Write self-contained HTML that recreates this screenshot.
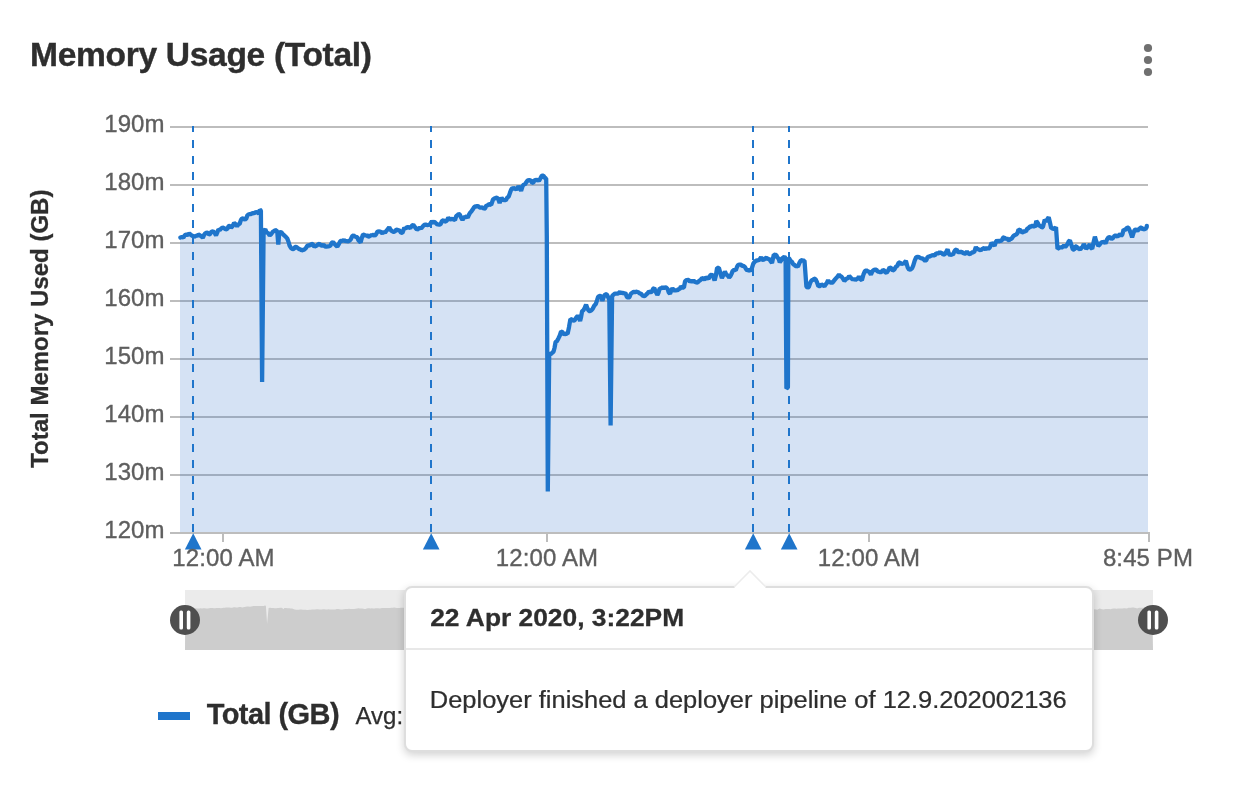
<!DOCTYPE html>
<html lang="en">
<head>
<meta charset="utf-8">
<title>Memory Usage (Total)</title>
<style>
html,body{margin:0;padding:0;background:#fff;}
body{width:1244px;height:812px;position:relative;overflow:hidden;font-family:"Liberation Sans",sans-serif;}
.tip{position:absolute;left:404px;top:586px;width:690px;height:166px;box-sizing:border-box;background:#fff;border:2px solid #dedede;border-radius:8px;box-shadow:0 3px 9px rgba(0,0,0,0.18);}
.tip .hd{position:absolute;left:0;right:0;top:0;height:60px;border-bottom:2px solid #e8e8e8;}
.arrow{position:absolute;left:734px;top:570px;width:32px;height:18px;}
</style>
</head>
<body>
<svg width="1244" height="812" viewBox="0 0 1244 812" style="position:absolute;left:0;top:0;font-family:'Liberation Sans',sans-serif">
<rect x="170" y="126.00" width="978" height="2" fill="#bdbdbd"/>
<rect x="170" y="184.00" width="978" height="2" fill="#bdbdbd"/>
<rect x="170" y="242.00" width="978" height="2" fill="#bdbdbd"/>
<rect x="170" y="300.00" width="978" height="2" fill="#bdbdbd"/>
<rect x="170" y="358.00" width="978" height="2" fill="#bdbdbd"/>
<rect x="170" y="416.00" width="978" height="2" fill="#bdbdbd"/>
<rect x="170" y="474.00" width="978" height="2" fill="#bdbdbd"/>
<path d="M180 237.5 L180.4 237.5 L181.9 237 L183.4 237.5 L184.9 235.1 L186.5 234.6 L187.9 235 L189.3 233.5 L190.7 234.6 L191.9 235.6 L193.1 236 L194.3 237.2 L195.7 235.5 L197 236.2 L198.3 234.4 L199.7 235.1 L201.2 236.3 L202.8 237.8 L204.1 234.9 L205.3 233.3 L206.6 232.6 L207.7 232.9 L208.9 234.5 L210 234.2 L211.5 231.7 L213 231.2 L214.5 232.6 L216 235.4 L217.2 232.7 L218.4 229.4 L219.8 230 L221.3 228.4 L222.7 227.6 L224.2 228.2 L225.7 229.4 L227.2 229 L228.7 226.1 L229.9 225.7 L231.1 227.6 L232.6 226.2 L234.1 223 L235.6 224.2 L237.1 226.4 L238.3 224.3 L239.6 224 L240.8 220.3 L242 218.5 L243.5 218.6 L245 219.7 L246.2 218.7 L247.4 215.3 L248.6 214.3 L249.8 214.2 L251 214.1 L252.2 213.1 L253.4 213.3 L254.6 212.9 L256 212 L257.5 212.3 L258.9 213.7 L259.8 209.7 L260.9 210.7 L260.9 212 L262.1 382 L263.6 231 L265.3 229.4 L266.5 232.4 L268.1 233.1 L269.7 235.4 L271.2 234.1 L272.7 231.8 L273.9 231.1 L275.2 230.3 L276.4 230.2 L277.3 232.4 L278.3 244.7 L279.3 232.4 L281.2 232.2 L282.7 234 L284.2 235.4 L285.7 236.8 L287.2 238.4 L288.4 241.5 L289.6 245.7 L291.1 248.2 L292.7 249.1 L293.9 248.9 L295.1 247 L296.3 246.9 L297.8 248.2 L299.3 249.1 L300.5 249.4 L301.7 250.6 L302.9 249.9 L304.4 249.6 L305.9 248.1 L307.1 246 L308.3 245.1 L309.9 245.7 L311.4 243.9 L312.9 244.4 L314.4 246.9 L315.6 245.8 L316.8 245.8 L318 244.2 L318 244.2 L319.4 243.8 L320.8 245.2 L322.2 245.8 L323.5 244.7 L324.9 246.4 L326.2 246.8 L327.6 246.4 L328.9 246.3 L330.3 245.8 L331.7 242.9 L333.1 242 L334.5 244 L335.9 245.3 L337.3 246.6 L338.8 244.1 L340.3 241.2 L341.5 240.6 L342.8 241.1 L344 239.7 L345.2 241.4 L346.4 240.8 L347.6 241.4 L349.1 241 L350.6 239.7 L352.1 236.4 L353.6 235.4 L354.8 236.5 L356 236.8 L357.2 237 L358.3 240.1 L359.5 241.4 L360.6 242.4 L361.8 237.9 L363 234.6 L364.3 234.8 L365.6 236 L366.8 234.9 L368.1 236.6 L369.4 236.3 L370.7 235.4 L372.1 235.1 L373.4 234.8 L374.7 235.8 L375.9 234.6 L377.1 232.1 L378.4 231.2 L379.7 231.6 L381.1 232.1 L382.4 233.5 L383.7 231.5 L385 232.7 L386.4 230.8 L387.8 229.2 L389.2 227.3 L390.6 229.8 L392 231.1 L393.4 231.8 L394.6 232 L395.9 229.8 L397.1 229.7 L398.5 230.2 L399.8 230.8 L401.1 232.9 L402.5 232.7 L404.3 227.7 L405.5 229 L406.7 227 L407.9 227.2 L409.1 227.4 L410.3 228.2 L411.8 225.9 L413.3 224.9 L414.5 226.5 L415.8 228.3 L417 229.7 L418.4 228.7 L419.8 227.6 L421.2 228.5 L422.7 226.5 L424.2 224.9 L425.6 224.6 L427 225.1 L428.4 224.9 L429.9 224.6 L431.4 221.9 L432.9 222.4 L434.5 221.9 L435.7 223 L436.9 224.1 L438.1 224.5 L439.3 224.7 L440.5 224.3 L442 221 L443.5 220.1 L444.7 221.7 L445.9 221.3 L447.1 220.2 L448.3 217.7 L449.7 219.1 L451.1 219.4 L452.4 218.8 L453.8 219.5 L455 220 L456.2 216.1 L457.4 215.3 L458.6 214.1 L459.8 214.6 L461.1 217.6 L462.5 220 L463.9 217.4 L465.3 217 L466.5 216.3 L467.7 217.8 L468.9 214.9 L470.1 212.7 L471.3 211.5 L472.5 209.8 L473.7 207.8 L474.9 206.5 L476.1 206.5 L477.3 206 L478.5 206.3 L479.7 207.7 L481.1 207.7 L482.6 207.3 L484 208.9 L485.2 208.1 L486.4 205.3 L487.6 205.5 L488.8 204.2 L490 204.4 L491.2 204.9 L493 199.5 L494.4 198.5 L495.8 197.9 L497.2 197.7 L498.4 199.4 L499.6 203.1 L501.5 197.7 L503 199.8 L504.5 200.1 L505.9 200.2 L507.3 197.6 L508.7 196.5 L509.9 193.1 L511.1 189.8 L512.3 188.1 L513.5 188.6 L515 188.2 L516.5 189.8 L518.4 186.2 L519.8 188.1 L521.1 190.8 L522.6 186.2 L523.8 184.3 L525 184.5 L526.2 182.3 L527.7 180.4 L529.2 180.2 L530.7 180.3 L532.2 182.8 L533.4 182.5 L534.6 179.9 L536 180.3 L537.5 179.6 L538.9 180.8 L540.4 178.3 L541.9 175.6 L543.4 175.6 L544.9 178 L546.2 178.4 L546.8 236 L547.8 491.5 L549.2 354 L550.8 354 L552.1 352.9 L553.5 351.6 L554.5 348 L555.6 342 L557 341.1 L558.4 338.4 L559.8 335.5 L561.1 331.5 L562.2 331.9 L563.3 333.3 L564.4 334.7 L566 333.4 L567.6 333.9 L569 327.2 L570.4 319 L571.8 319.5 L573.2 320.6 L574.6 320.3 L576.2 317.6 L577.7 315.8 L578.9 317.6 L580.1 320.9 L581.1 316.9 L582.1 311.2 L583.4 310.3 L584.8 307.7 L586.1 304.6 L587.5 308.6 L588.9 311 L590.2 311.1 L591.4 310.2 L592.7 308.8 L594.2 305.7 L595.8 304 L597 300.4 L598.2 296.7 L599.7 296 L601.2 296.1 L602.4 300.9 L603.9 296.3 L605.4 294.1 L606.8 294.5 L608.2 297.3 L609.3 300 L610.6 425.5 L612.1 296 L613.3 294.9 L614.5 293.9 L615.7 293.5 L616.9 293.7 L618.4 293.3 L619.9 291.9 L621.2 293.3 L622.6 292.3 L623.9 293.8 L625.3 292.9 L626.8 296.7 L628.3 297.9 L629.5 297 L630.8 293.7 L632.2 292.8 L633.6 291.9 L635 292.1 L636.2 291.7 L637.4 292 L638.6 292.3 L639.8 293.7 L641 293.7 L642.4 295.4 L643.8 296 L645.2 295.8 L646.4 294.2 L647.7 293.2 L648.9 291.3 L650.4 292.3 L651.9 291.7 L653.1 288.8 L654.3 288 L655.8 291.9 L657.3 294.9 L658.5 292.7 L659.7 288.3 L661.2 288.4 L662.7 287.1 L663.9 288 L665.2 287.4 L666.4 287.7 L667.6 288.9 L668.8 292.5 L670 293.7 L671.2 290.6 L672.4 288.3 L673.6 289.7 L674.8 290.8 L676 289.9 L677.2 290.8 L678.4 289.1 L679.7 289.1 L680.9 286.5 L682.4 287.7 L683.9 287.7 L685.1 281.1 L686.3 280.2 L687.5 280 L688.7 280 L689.9 281.8 L691.1 280.7 L692.3 281.8 L693.5 280.4 L694.7 281.7 L696.1 282.3 L697.6 282.5 L699 281.1 L700.5 280 L702 278.1 L703.2 278.6 L704.4 279.9 L706.2 277.1 L707.4 278 L708.6 278.7 L710.1 275.6 L711.6 274.5 L713.1 276.2 L714.6 280.5 L715.9 275.4 L717.1 267.8 L718.9 267.8 L720.4 273.3 L721.9 278.1 L723.4 274.9 L724.9 271.5 L726.3 274.6 L727.7 275.3 L729.1 277.5 L730.3 276.3 L731.5 273.9 L732.7 270.9 L734.2 269.8 L735.8 270.3 L737 266.9 L738.2 264.8 L739.6 264.6 L740.9 264.7 L742.2 265.9 L743.6 266 L744.8 266.9 L746 268.9 L747.2 270.6 L748.7 269.8 L750.2 270.9 L751.8 268.3 L753.3 263.6 L754.8 261.7 L756.3 260.6 L757.5 260.3 L758.7 260.2 L759.9 259 L761.1 257.3 L762.3 259.7 L763.5 260 L765 258.6 L766.5 257.6 L767.8 259.3 L769 258.8 L770.5 260.9 L772 263 L773.8 254.6 L775 254.8 L776.2 254.9 L777.4 257.5 L778.6 258.6 L779.8 262.4 L781 260.6 L782.2 258.4 L783.4 257.6 L784.5 256.6 L785.6 258.2 L786.4 388.4 L787.9 387.4 L788.3 258 L789.5 258.8 L790.7 261.4 L791.9 261.5 L793.1 264.2 L794.3 264.7 L795.5 266 L796.7 266.1 L797.9 266.6 L799.4 262.9 L800.9 260.2 L802.1 260.4 L803.3 260.6 L804.5 260.6 L806.4 286.5 L807.6 287.5 L808.8 287.1 L810.3 282.6 L811.8 280.2 L813 280 L814.2 278.7 L815.4 279 L816.9 282 L818.4 286.2 L820 286 L821.5 284.4 L823 285.3 L824.5 286.2 L825.7 284.4 L826.9 282.9 L828.1 280.2 L829.3 282.3 L830.5 282.1 L831.7 283.2 L833.1 281.9 L834.5 280 L835.9 278.4 L837.5 276.6 L839 274.7 L840.2 276.1 L841.4 276.5 L842.9 278.5 L844.4 280.8 L845.6 279.7 L846.8 278.3 L848 278.3 L849.2 275.9 L850.4 277.3 L851.6 278.6 L852.9 279.6 L854.1 278.7 L855.3 280.2 L856.5 279.1 L857.7 278.9 L858.9 276.5 L860.4 279.2 L861.9 280.2 L863.4 274.7 L864.9 271.1 L866.3 270.3 L867.7 271.3 L869.1 271.7 L870.9 274.7 L872.5 271.2 L874 269.9 L875.2 269.7 L876.4 269.7 L877.6 271.7 L878.8 271.7 L880.1 272.1 L881.5 272.1 L882.9 269.9 L884.2 270.5 L885.4 272.3 L886.6 272.9 L888.1 270.6 L889.6 267.5 L891.2 268.1 L892.7 270.5 L894.2 269.7 L895.7 266.9 L897.2 266 L898.7 262.7 L899.9 262.3 L901.1 264.5 L902.3 263.3 L903.5 263.9 L904.7 262.4 L905.9 260.9 L907.7 267.5 L909.2 269.7 L910.8 269.3 L912 268.4 L913.2 265.7 L914.7 260.6 L916.2 257.2 L917.7 257 L919.2 257.2 L920.4 258 L921.6 258.3 L922.8 258.6 L924 259.7 L925.2 260.9 L926.4 260 L927.7 256.8 L928.9 256.6 L930.4 256.1 L931.9 255.4 L933.4 255.2 L934.9 255.4 L936.1 253.3 L937.3 253.4 L938.5 253.3 L939.7 252.2 L940.9 253.1 L942.1 252.8 L943.3 254.8 L944.7 254.3 L946.2 251.9 L947.6 249.4 L948.8 253.6 L950 255.4 L951.5 254.1 L953 254.8 L954.2 251.8 L955.4 250 L956.6 249.5 L957.9 252.2 L959.1 252.2 L960.5 252 L961.8 251.9 L963.1 253 L964.5 253.6 L965.7 253.6 L966.9 251.4 L968.4 253.6 L969.9 254.2 L971.3 253 L972.7 252.1 L974.1 252.4 L975.9 247 L977.1 249.1 L978.4 249.2 L979.6 250 L981.1 249.9 L982.6 248.8 L984.1 248 L985.6 249.4 L987 247.6 L988.4 248.7 L989.8 247.6 L991.6 242.7 L993.1 244.1 L994.6 245.8 L995.9 241.9 L997.1 240.3 L998.3 241.6 L999.5 241 L1000.7 240.9 L1001.9 240.1 L1003.1 237.7 L1004.3 237.1 L1005.5 239.6 L1006.7 238.1 L1007.9 239.7 L1009.1 240.4 L1010.3 239 L1011.5 238.9 L1012.8 236.8 L1014 235.5 L1015.2 235 L1016.4 234.3 L1017.5 233 L1018.5 229.5 L1019.6 229.9 L1020.7 230.5 L1021.8 232.5 L1023.2 232.2 L1024.6 231 L1026 231.3 L1027.2 228.8 L1028.4 228.3 L1030 226.5 L1031.5 226.5 L1032.7 225.5 L1033.9 226.1 L1035.1 227.1 L1036.3 221 L1037.8 223 L1039.3 225.9 L1040.5 225.8 L1041.7 227.4 L1042.9 227.1 L1044.7 219.8 L1046.5 221.6 L1047.6 218.9 L1048.7 217.2 L1050 222.8 L1051.2 228.3 L1052.7 228.1 L1054.2 229.5 L1056 227.1 L1057.5 248.8 L1058.8 248.1 L1060.2 246.9 L1061.5 247.8 L1062.7 246.7 L1063.9 245.5 L1065.1 246.9 L1066.3 245.8 L1067.5 244.1 L1068.7 241.3 L1069.9 240.3 L1071.4 244.9 L1072.9 249.7 L1074.1 249.7 L1075.3 246.5 L1076.5 246.4 L1077.7 248.3 L1079 248.4 L1080.2 249.7 L1081.4 247.8 L1082.6 246.8 L1083.8 244 L1085 246.1 L1086.2 248.8 L1087.4 247.3 L1088.6 246.2 L1089.8 244.2 L1091 247.8 L1092.2 248.8 L1093.6 242.3 L1094.9 236.7 L1096 240.6 L1097.2 243.3 L1098.3 245.8 L1099.5 244.9 L1100.7 243.1 L1101.9 242.1 L1103.1 242.1 L1104.3 241.8 L1105.5 243.4 L1107 239.4 L1108.5 237.3 L1110 237.1 L1111.5 239.1 L1113 238 L1114.6 235.7 L1116.1 235.6 L1117.6 236.7 L1118.8 235.2 L1120 234.4 L1121.2 235.8 L1122.4 234.3 L1123.6 229.5 L1124.8 230 L1126 229 L1127.2 227.6 L1128.4 227.7 L1129.6 230.2 L1130.9 233.6 L1132.1 237.3 L1133.3 233.6 L1134.5 230.1 L1136 229.5 L1137.5 230.7 L1139 229.1 L1140.5 227.7 L1141.7 227.5 L1142.9 229.7 L1144.1 228.9 L1145.4 229.1 L1146.7 227 L1146.8 225.9 L1148 225.9 L1148 532 L180 532 Z" fill="#2d70c8" fill-opacity="0.2"/>
<path d="M180.4 237.5 L181.9 237 L183.4 237.5 L184.9 235.1 L186.5 234.6 L187.9 235 L189.3 233.5 L190.7 234.6 L191.9 235.6 L193.1 236 L194.3 237.2 L195.7 235.5 L197 236.2 L198.3 234.4 L199.7 235.1 L201.2 236.3 L202.8 237.8 L204.1 234.9 L205.3 233.3 L206.6 232.6 L207.7 232.9 L208.9 234.5 L210 234.2 L211.5 231.7 L213 231.2 L214.5 232.6 L216 235.4 L217.2 232.7 L218.4 229.4 L219.8 230 L221.3 228.4 L222.7 227.6 L224.2 228.2 L225.7 229.4 L227.2 229 L228.7 226.1 L229.9 225.7 L231.1 227.6 L232.6 226.2 L234.1 223 L235.6 224.2 L237.1 226.4 L238.3 224.3 L239.6 224 L240.8 220.3 L242 218.5 L243.5 218.6 L245 219.7 L246.2 218.7 L247.4 215.3 L248.6 214.3 L249.8 214.2 L251 214.1 L252.2 213.1 L253.4 213.3 L254.6 212.9 L256 212 L257.5 212.3 L258.9 213.7 L259.8 209.7 L260.9 210.7 L260.9 212 L262.1 382 L263.6 231 L265.3 229.4 L266.5 232.4 L268.1 233.1 L269.7 235.4 L271.2 234.1 L272.7 231.8 L273.9 231.1 L275.2 230.3 L276.4 230.2 L277.3 232.4 L278.3 244.7 L279.3 232.4 L281.2 232.2 L282.7 234 L284.2 235.4 L285.7 236.8 L287.2 238.4 L288.4 241.5 L289.6 245.7 L291.1 248.2 L292.7 249.1 L293.9 248.9 L295.1 247 L296.3 246.9 L297.8 248.2 L299.3 249.1 L300.5 249.4 L301.7 250.6 L302.9 249.9 L304.4 249.6 L305.9 248.1 L307.1 246 L308.3 245.1 L309.9 245.7 L311.4 243.9 L312.9 244.4 L314.4 246.9 L315.6 245.8 L316.8 245.8 L318 244.2 L318 244.2 L319.4 243.8 L320.8 245.2 L322.2 245.8 L323.5 244.7 L324.9 246.4 L326.2 246.8 L327.6 246.4 L328.9 246.3 L330.3 245.8 L331.7 242.9 L333.1 242 L334.5 244 L335.9 245.3 L337.3 246.6 L338.8 244.1 L340.3 241.2 L341.5 240.6 L342.8 241.1 L344 239.7 L345.2 241.4 L346.4 240.8 L347.6 241.4 L349.1 241 L350.6 239.7 L352.1 236.4 L353.6 235.4 L354.8 236.5 L356 236.8 L357.2 237 L358.3 240.1 L359.5 241.4 L360.6 242.4 L361.8 237.9 L363 234.6 L364.3 234.8 L365.6 236 L366.8 234.9 L368.1 236.6 L369.4 236.3 L370.7 235.4 L372.1 235.1 L373.4 234.8 L374.7 235.8 L375.9 234.6 L377.1 232.1 L378.4 231.2 L379.7 231.6 L381.1 232.1 L382.4 233.5 L383.7 231.5 L385 232.7 L386.4 230.8 L387.8 229.2 L389.2 227.3 L390.6 229.8 L392 231.1 L393.4 231.8 L394.6 232 L395.9 229.8 L397.1 229.7 L398.5 230.2 L399.8 230.8 L401.1 232.9 L402.5 232.7 L404.3 227.7 L405.5 229 L406.7 227 L407.9 227.2 L409.1 227.4 L410.3 228.2 L411.8 225.9 L413.3 224.9 L414.5 226.5 L415.8 228.3 L417 229.7 L418.4 228.7 L419.8 227.6 L421.2 228.5 L422.7 226.5 L424.2 224.9 L425.6 224.6 L427 225.1 L428.4 224.9 L429.9 224.6 L431.4 221.9 L432.9 222.4 L434.5 221.9 L435.7 223 L436.9 224.1 L438.1 224.5 L439.3 224.7 L440.5 224.3 L442 221 L443.5 220.1 L444.7 221.7 L445.9 221.3 L447.1 220.2 L448.3 217.7 L449.7 219.1 L451.1 219.4 L452.4 218.8 L453.8 219.5 L455 220 L456.2 216.1 L457.4 215.3 L458.6 214.1 L459.8 214.6 L461.1 217.6 L462.5 220 L463.9 217.4 L465.3 217 L466.5 216.3 L467.7 217.8 L468.9 214.9 L470.1 212.7 L471.3 211.5 L472.5 209.8 L473.7 207.8 L474.9 206.5 L476.1 206.5 L477.3 206 L478.5 206.3 L479.7 207.7 L481.1 207.7 L482.6 207.3 L484 208.9 L485.2 208.1 L486.4 205.3 L487.6 205.5 L488.8 204.2 L490 204.4 L491.2 204.9 L493 199.5 L494.4 198.5 L495.8 197.9 L497.2 197.7 L498.4 199.4 L499.6 203.1 L501.5 197.7 L503 199.8 L504.5 200.1 L505.9 200.2 L507.3 197.6 L508.7 196.5 L509.9 193.1 L511.1 189.8 L512.3 188.1 L513.5 188.6 L515 188.2 L516.5 189.8 L518.4 186.2 L519.8 188.1 L521.1 190.8 L522.6 186.2 L523.8 184.3 L525 184.5 L526.2 182.3 L527.7 180.4 L529.2 180.2 L530.7 180.3 L532.2 182.8 L533.4 182.5 L534.6 179.9 L536 180.3 L537.5 179.6 L538.9 180.8 L540.4 178.3 L541.9 175.6 L543.4 175.6 L544.9 178 L546.2 178.4 L546.8 236 L547.8 491.5 L549.2 354 L550.8 354 L552.1 352.9 L553.5 351.6 L554.5 348 L555.6 342 L557 341.1 L558.4 338.4 L559.8 335.5 L561.1 331.5 L562.2 331.9 L563.3 333.3 L564.4 334.7 L566 333.4 L567.6 333.9 L569 327.2 L570.4 319 L571.8 319.5 L573.2 320.6 L574.6 320.3 L576.2 317.6 L577.7 315.8 L578.9 317.6 L580.1 320.9 L581.1 316.9 L582.1 311.2 L583.4 310.3 L584.8 307.7 L586.1 304.6 L587.5 308.6 L588.9 311 L590.2 311.1 L591.4 310.2 L592.7 308.8 L594.2 305.7 L595.8 304 L597 300.4 L598.2 296.7 L599.7 296 L601.2 296.1 L602.4 300.9 L603.9 296.3 L605.4 294.1 L606.8 294.5 L608.2 297.3 L609.3 300 L610.6 425.5 L612.1 296 L613.3 294.9 L614.5 293.9 L615.7 293.5 L616.9 293.7 L618.4 293.3 L619.9 291.9 L621.2 293.3 L622.6 292.3 L623.9 293.8 L625.3 292.9 L626.8 296.7 L628.3 297.9 L629.5 297 L630.8 293.7 L632.2 292.8 L633.6 291.9 L635 292.1 L636.2 291.7 L637.4 292 L638.6 292.3 L639.8 293.7 L641 293.7 L642.4 295.4 L643.8 296 L645.2 295.8 L646.4 294.2 L647.7 293.2 L648.9 291.3 L650.4 292.3 L651.9 291.7 L653.1 288.8 L654.3 288 L655.8 291.9 L657.3 294.9 L658.5 292.7 L659.7 288.3 L661.2 288.4 L662.7 287.1 L663.9 288 L665.2 287.4 L666.4 287.7 L667.6 288.9 L668.8 292.5 L670 293.7 L671.2 290.6 L672.4 288.3 L673.6 289.7 L674.8 290.8 L676 289.9 L677.2 290.8 L678.4 289.1 L679.7 289.1 L680.9 286.5 L682.4 287.7 L683.9 287.7 L685.1 281.1 L686.3 280.2 L687.5 280 L688.7 280 L689.9 281.8 L691.1 280.7 L692.3 281.8 L693.5 280.4 L694.7 281.7 L696.1 282.3 L697.6 282.5 L699 281.1 L700.5 280 L702 278.1 L703.2 278.6 L704.4 279.9 L706.2 277.1 L707.4 278 L708.6 278.7 L710.1 275.6 L711.6 274.5 L713.1 276.2 L714.6 280.5 L715.9 275.4 L717.1 267.8 L718.9 267.8 L720.4 273.3 L721.9 278.1 L723.4 274.9 L724.9 271.5 L726.3 274.6 L727.7 275.3 L729.1 277.5 L730.3 276.3 L731.5 273.9 L732.7 270.9 L734.2 269.8 L735.8 270.3 L737 266.9 L738.2 264.8 L739.6 264.6 L740.9 264.7 L742.2 265.9 L743.6 266 L744.8 266.9 L746 268.9 L747.2 270.6 L748.7 269.8 L750.2 270.9 L751.8 268.3 L753.3 263.6 L754.8 261.7 L756.3 260.6 L757.5 260.3 L758.7 260.2 L759.9 259 L761.1 257.3 L762.3 259.7 L763.5 260 L765 258.6 L766.5 257.6 L767.8 259.3 L769 258.8 L770.5 260.9 L772 263 L773.8 254.6 L775 254.8 L776.2 254.9 L777.4 257.5 L778.6 258.6 L779.8 262.4 L781 260.6 L782.2 258.4 L783.4 257.6 L784.5 256.6 L785.6 258.2 L786.4 388.4 L787.9 387.4 L788.3 258 L789.5 258.8 L790.7 261.4 L791.9 261.5 L793.1 264.2 L794.3 264.7 L795.5 266 L796.7 266.1 L797.9 266.6 L799.4 262.9 L800.9 260.2 L802.1 260.4 L803.3 260.6 L804.5 260.6 L806.4 286.5 L807.6 287.5 L808.8 287.1 L810.3 282.6 L811.8 280.2 L813 280 L814.2 278.7 L815.4 279 L816.9 282 L818.4 286.2 L820 286 L821.5 284.4 L823 285.3 L824.5 286.2 L825.7 284.4 L826.9 282.9 L828.1 280.2 L829.3 282.3 L830.5 282.1 L831.7 283.2 L833.1 281.9 L834.5 280 L835.9 278.4 L837.5 276.6 L839 274.7 L840.2 276.1 L841.4 276.5 L842.9 278.5 L844.4 280.8 L845.6 279.7 L846.8 278.3 L848 278.3 L849.2 275.9 L850.4 277.3 L851.6 278.6 L852.9 279.6 L854.1 278.7 L855.3 280.2 L856.5 279.1 L857.7 278.9 L858.9 276.5 L860.4 279.2 L861.9 280.2 L863.4 274.7 L864.9 271.1 L866.3 270.3 L867.7 271.3 L869.1 271.7 L870.9 274.7 L872.5 271.2 L874 269.9 L875.2 269.7 L876.4 269.7 L877.6 271.7 L878.8 271.7 L880.1 272.1 L881.5 272.1 L882.9 269.9 L884.2 270.5 L885.4 272.3 L886.6 272.9 L888.1 270.6 L889.6 267.5 L891.2 268.1 L892.7 270.5 L894.2 269.7 L895.7 266.9 L897.2 266 L898.7 262.7 L899.9 262.3 L901.1 264.5 L902.3 263.3 L903.5 263.9 L904.7 262.4 L905.9 260.9 L907.7 267.5 L909.2 269.7 L910.8 269.3 L912 268.4 L913.2 265.7 L914.7 260.6 L916.2 257.2 L917.7 257 L919.2 257.2 L920.4 258 L921.6 258.3 L922.8 258.6 L924 259.7 L925.2 260.9 L926.4 260 L927.7 256.8 L928.9 256.6 L930.4 256.1 L931.9 255.4 L933.4 255.2 L934.9 255.4 L936.1 253.3 L937.3 253.4 L938.5 253.3 L939.7 252.2 L940.9 253.1 L942.1 252.8 L943.3 254.8 L944.7 254.3 L946.2 251.9 L947.6 249.4 L948.8 253.6 L950 255.4 L951.5 254.1 L953 254.8 L954.2 251.8 L955.4 250 L956.6 249.5 L957.9 252.2 L959.1 252.2 L960.5 252 L961.8 251.9 L963.1 253 L964.5 253.6 L965.7 253.6 L966.9 251.4 L968.4 253.6 L969.9 254.2 L971.3 253 L972.7 252.1 L974.1 252.4 L975.9 247 L977.1 249.1 L978.4 249.2 L979.6 250 L981.1 249.9 L982.6 248.8 L984.1 248 L985.6 249.4 L987 247.6 L988.4 248.7 L989.8 247.6 L991.6 242.7 L993.1 244.1 L994.6 245.8 L995.9 241.9 L997.1 240.3 L998.3 241.6 L999.5 241 L1000.7 240.9 L1001.9 240.1 L1003.1 237.7 L1004.3 237.1 L1005.5 239.6 L1006.7 238.1 L1007.9 239.7 L1009.1 240.4 L1010.3 239 L1011.5 238.9 L1012.8 236.8 L1014 235.5 L1015.2 235 L1016.4 234.3 L1017.5 233 L1018.5 229.5 L1019.6 229.9 L1020.7 230.5 L1021.8 232.5 L1023.2 232.2 L1024.6 231 L1026 231.3 L1027.2 228.8 L1028.4 228.3 L1030 226.5 L1031.5 226.5 L1032.7 225.5 L1033.9 226.1 L1035.1 227.1 L1036.3 221 L1037.8 223 L1039.3 225.9 L1040.5 225.8 L1041.7 227.4 L1042.9 227.1 L1044.7 219.8 L1046.5 221.6 L1047.6 218.9 L1048.7 217.2 L1050 222.8 L1051.2 228.3 L1052.7 228.1 L1054.2 229.5 L1056 227.1 L1057.5 248.8 L1058.8 248.1 L1060.2 246.9 L1061.5 247.8 L1062.7 246.7 L1063.9 245.5 L1065.1 246.9 L1066.3 245.8 L1067.5 244.1 L1068.7 241.3 L1069.9 240.3 L1071.4 244.9 L1072.9 249.7 L1074.1 249.7 L1075.3 246.5 L1076.5 246.4 L1077.7 248.3 L1079 248.4 L1080.2 249.7 L1081.4 247.8 L1082.6 246.8 L1083.8 244 L1085 246.1 L1086.2 248.8 L1087.4 247.3 L1088.6 246.2 L1089.8 244.2 L1091 247.8 L1092.2 248.8 L1093.6 242.3 L1094.9 236.7 L1096 240.6 L1097.2 243.3 L1098.3 245.8 L1099.5 244.9 L1100.7 243.1 L1101.9 242.1 L1103.1 242.1 L1104.3 241.8 L1105.5 243.4 L1107 239.4 L1108.5 237.3 L1110 237.1 L1111.5 239.1 L1113 238 L1114.6 235.7 L1116.1 235.6 L1117.6 236.7 L1118.8 235.2 L1120 234.4 L1121.2 235.8 L1122.4 234.3 L1123.6 229.5 L1124.8 230 L1126 229 L1127.2 227.6 L1128.4 227.7 L1129.6 230.2 L1130.9 233.6 L1132.1 237.3 L1133.3 233.6 L1134.5 230.1 L1136 229.5 L1137.5 230.7 L1139 229.1 L1140.5 227.7 L1141.7 227.5 L1142.9 229.7 L1144.1 228.9 L1145.4 229.1 L1146.7 227 L1146.8 225.9" fill="none" stroke="#1f75cb" stroke-width="4.3" stroke-linejoin="bevel" stroke-linecap="round"/>
<rect x="170" y="532" width="980" height="2" fill="#bdbdbd"/>
<rect x="222" y="532" width="2" height="10" fill="#bdbdbd"/>
<rect x="546" y="532" width="2" height="10" fill="#bdbdbd"/>
<rect x="868" y="532" width="2" height="10" fill="#bdbdbd"/>
<rect x="1148" y="532" width="2" height="10" fill="#bdbdbd"/>
<line x1="193" y1="532" x2="193" y2="126" stroke="#1f75cb" stroke-width="2" stroke-dasharray="8 8"/>
<path d="M193.2 533.2 L201.5 549.6 L184.9 549.6 Z" fill="#1f75cb"/>
<line x1="431" y1="532" x2="431" y2="126" stroke="#1f75cb" stroke-width="2" stroke-dasharray="8 8"/>
<path d="M431.2 533.2 L439.5 549.6 L422.9 549.6 Z" fill="#1f75cb"/>
<line x1="753" y1="532" x2="753" y2="126" stroke="#1f75cb" stroke-width="2" stroke-dasharray="8 8"/>
<path d="M753.2 533.2 L761.5 549.6 L744.9 549.6 Z" fill="#1f75cb"/>
<line x1="789" y1="532" x2="789" y2="126" stroke="#1f75cb" stroke-width="2" stroke-dasharray="8 8"/>
<path d="M789.2 533.2 L797.5 549.6 L780.9 549.6 Z" fill="#1f75cb"/>
<text x="164.4" y="132.3" font-size="24" fill="#5e5e5e" stroke="#5e5e5e" stroke-width="0.35" text-anchor="end">190m</text>
<text x="164.4" y="190.3" font-size="24" fill="#5e5e5e" stroke="#5e5e5e" stroke-width="0.35" text-anchor="end">180m</text>
<text x="164.4" y="248.3" font-size="24" fill="#5e5e5e" stroke="#5e5e5e" stroke-width="0.35" text-anchor="end">170m</text>
<text x="164.4" y="306.3" font-size="24" fill="#5e5e5e" stroke="#5e5e5e" stroke-width="0.35" text-anchor="end">160m</text>
<text x="164.4" y="364.3" font-size="24" fill="#5e5e5e" stroke="#5e5e5e" stroke-width="0.35" text-anchor="end">150m</text>
<text x="164.4" y="422.3" font-size="24" fill="#5e5e5e" stroke="#5e5e5e" stroke-width="0.35" text-anchor="end">140m</text>
<text x="164.4" y="480.3" font-size="24" fill="#5e5e5e" stroke="#5e5e5e" stroke-width="0.35" text-anchor="end">130m</text>
<text x="164.4" y="538.3" font-size="24" fill="#5e5e5e" stroke="#5e5e5e" stroke-width="0.35" text-anchor="end">120m</text>
<text x="223.5" y="566" font-size="24" fill="#5e5e5e" stroke="#5e5e5e" stroke-width="0.35" letter-spacing="0.12" text-anchor="middle">12:00 AM</text>
<text x="547" y="566" font-size="24" fill="#5e5e5e" stroke="#5e5e5e" stroke-width="0.35" letter-spacing="0.12" text-anchor="middle">12:00 AM</text>
<text x="869" y="566" font-size="24" fill="#5e5e5e" stroke="#5e5e5e" stroke-width="0.35" letter-spacing="0.12" text-anchor="middle">12:00 AM</text>
<text x="1148" y="566" font-size="24" fill="#5e5e5e" stroke="#5e5e5e" stroke-width="0.35" letter-spacing="0.12" text-anchor="middle">8:45 PM</text>
<text transform="translate(48.4 328.7) rotate(-90)" font-size="24" font-weight="bold" fill="#2e2e2e" stroke="#2e2e2e" stroke-width="0.3" text-anchor="middle">Total Memory Used (GB)</text>
<rect x="185" y="590" width="968" height="60" fill="#ebebeb"/>
<path d="M185.4 608.6 L186.9 608.5 L188.4 608.6 L189.9 608.3 L191.5 608.2 L192.9 608.3 L194.3 608.1 L195.7 608.2 L196.9 608.4 L198.1 608.4 L199.3 608.5 L200.7 608.3 L202.0 608.4 L203.3 608.2 L204.7 608.3 L206.2 608.4 L207.8 608.6 L209.1 608.3 L210.3 608.1 L211.6 608.0 L212.7 608.1 L213.9 608.2 L215.0 608.2 L216.5 607.9 L218.0 607.9 L219.5 608.0 L221.0 608.3 L222.2 608.0 L223.4 607.7 L224.8 607.8 L226.3 607.6 L227.7 607.5 L229.2 607.6 L230.7 607.7 L232.2 607.7 L233.7 607.3 L234.9 607.3 L236.1 607.5 L237.6 607.4 L239.1 607.0 L240.6 607.1 L242.1 607.4 L243.3 607.2 L244.6 607.1 L245.8 606.7 L247.0 606.5 L248.5 606.6 L250.0 606.7 L251.2 606.6 L252.4 606.2 L253.6 606.1 L254.8 606.1 L256.0 606.1 L257.2 606.0 L258.4 606.0 L259.6 606.0 L261.0 605.9 L262.5 605.9 L263.9 606.0 L264.8 605.6 L265.9 605.7 L265.9 605.9 L267.1 623.8 L268.6 607.9 L270.3 607.7 L271.5 608.0 L273.1 608.1 L274.7 608.3 L276.2 608.2 L277.7 608.0 L278.9 607.9 L280.2 607.8 L281.4 607.8 L282.3 608.0 L283.3 609.3 L284.3 608.0 L286.2 608.0 L287.7 608.2 L289.2 608.3 L290.7 608.5 L292.2 608.6 L293.4 609.0 L294.6 609.4 L296.1 609.7 L297.7 609.8 L298.9 609.8 L300.1 609.6 L301.3 609.5 L302.8 609.7 L304.3 609.8 L305.5 609.8 L306.7 609.9 L307.9 609.9 L309.4 609.8 L310.9 609.7 L312.1 609.5 L313.3 609.4 L314.9 609.4 L316.4 609.2 L317.9 609.3 L319.4 609.5 L320.6 609.4 L321.8 609.4 L323.0 609.3 L323.0 609.3 L324.4 609.2 L325.8 609.4 L327.2 609.4 L328.5 609.3 L329.9 609.5 L331.2 609.5 L332.6 609.5 L333.9 609.5 L335.3 609.4 L336.7 609.1 L338.1 609.0 L339.5 609.2 L340.9 609.4 L342.3 609.5 L343.8 609.3 L345.3 608.9 L346.5 608.9 L347.8 608.9 L349.0 608.8 L350.2 609.0 L351.4 608.9 L352.6 609.0 L354.1 608.9 L355.6 608.8 L357.1 608.4 L358.6 608.3 L359.8 608.4 L361.0 608.5 L362.2 608.5 L363.3 608.8 L364.5 609.0 L365.6 609.1 L366.8 608.6 L368.0 608.2 L369.3 608.3 L370.6 608.4 L371.8 608.3 L373.1 608.5 L374.4 608.4 L375.7 608.3 L377.1 608.3 L378.4 608.3 L379.7 608.4 L380.9 608.2 L382.1 608.0 L383.4 607.9 L384.7 607.9 L386.1 608.0 L387.4 608.1 L388.7 607.9 L390.0 608.0 L391.4 607.8 L392.8 607.7 L394.2 607.5 L395.6 607.7 L397.0 607.9 L398.4 608.0 L399.6 608.0 L400.9 607.7 L402.1 607.7 L403.5 607.8 L404.8 607.8 L406.1 608.1 L407.5 608.0 L409.3 607.5 L410.5 607.7 L411.7 607.4 L412.9 607.5 L414.1 607.5 L415.3 607.6 L416.8 607.3 L418.3 607.2 L419.5 607.4 L420.8 607.6 L422.0 607.7 L423.4 607.6 L424.8 607.5 L426.2 607.6 L427.7 607.4 L429.2 607.2 L430.6 607.2 L432.0 607.2 L433.4 607.2 L434.9 607.2 L436.4 606.9 L437.9 607.0 L439.5 606.9 L440.7 607.0 L441.9 607.1 L443.1 607.2 L444.3 607.2 L445.5 607.2 L447.0 606.8 L448.5 606.7 L449.7 606.9 L450.9 606.8 L452.1 606.7 L453.3 606.5 L454.7 606.6 L456.1 606.6 L457.4 606.6 L458.8 606.7 L460.0 606.7 L461.2 606.3 L462.4 606.2 L463.6 606.1 L464.8 606.1 L466.1 606.5 L467.5 606.7 L468.9 606.4 L470.3 606.4 L471.5 606.3 L472.7 606.5 L473.9 606.2 L475.1 605.9 L476.3 605.8 L477.5 605.6 L478.7 605.4 L479.9 605.3 L481.1 605.3 L482.3 605.2 L483.5 605.3 L484.7 605.4 L486.1 605.4 L487.6 605.4 L489.0 605.5 L490.2 605.4 L491.4 605.2 L492.6 605.2 L493.8 605.0 L495.0 605.1 L496.2 605.1 L498.0 604.5 L499.4 604.4 L500.8 604.4 L502.2 604.3 L503.4 604.5 L504.6 604.9 L506.5 604.3 L508.0 604.6 L509.5 604.6 L510.9 604.6 L512.3 604.3 L513.7 604.2 L514.9 603.9 L516.1 603.5 L517.3 603.3 L518.5 603.4 L520.0 603.3 L521.5 603.5 L523.4 603.1 L524.8 603.3 L526.1 603.6 L527.6 603.1 L528.8 602.9 L530.0 603.0 L531.2 602.7 L532.7 602.5 L534.2 602.5 L535.7 602.5 L537.2 602.8 L538.4 602.7 L539.6 602.5 L541.0 602.5 L542.5 602.4 L543.9 602.6 L545.4 602.3 L546.9 602.0 L548.4 602.0 L549.9 602.3 L551.2 602.3 L551.8 608.4 L552.8 635.4 L554.2 620.9 L555.8 620.9 L557.1 620.7 L558.5 620.6 L559.5 620.2 L560.6 619.6 L562.0 619.5 L563.4 619.2 L564.8 618.9 L566.1 618.5 L567.2 618.5 L568.3 618.7 L569.4 618.8 L571.0 618.7 L572.6 618.7 L574.0 618.0 L575.4 617.2 L576.8 617.2 L578.2 617.3 L579.6 617.3 L581.2 617.0 L582.7 616.8 L583.9 617.0 L585.1 617.4 L586.1 616.9 L587.1 616.3 L588.4 616.2 L589.8 616.0 L591.1 615.6 L592.5 616.1 L593.9 616.3 L595.2 616.3 L596.4 616.2 L597.7 616.1 L599.2 615.8 L600.8 615.6 L602.0 615.2 L603.2 614.8 L604.7 614.7 L606.2 614.7 L607.4 615.3 L608.9 614.8 L610.4 614.5 L611.8 614.6 L613.2 614.9 L614.3 615.2 L615.6 628.4 L617.1 614.7 L618.3 614.6 L619.5 614.5 L620.7 614.5 L621.9 614.5 L623.4 614.4 L624.9 614.3 L626.2 614.4 L627.6 614.3 L628.9 614.5 L630.3 614.4 L631.8 614.8 L633.3 614.9 L634.5 614.8 L635.8 614.5 L637.2 614.4 L638.6 614.3 L640.0 614.3 L641.2 614.3 L642.4 614.3 L643.6 614.3 L644.8 614.5 L646.0 614.5 L647.4 614.7 L648.8 614.7 L650.2 614.7 L651.4 614.5 L652.7 614.4 L653.9 614.2 L655.4 614.3 L656.9 614.3 L658.1 614.0 L659.3 613.9 L660.8 614.3 L662.3 614.6 L663.5 614.4 L664.7 613.9 L666.2 613.9 L667.7 613.8 L668.9 613.9 L670.2 613.8 L671.4 613.9 L672.6 614.0 L673.8 614.4 L675.0 614.5 L676.2 614.2 L677.4 613.9 L678.6 614.1 L679.8 614.2 L681.0 614.1 L682.2 614.2 L683.4 614.0 L684.7 614.0 L685.9 613.7 L687.4 613.9 L688.9 613.9 L690.1 613.2 L691.3 613.1 L692.5 613.0 L693.7 613.0 L694.9 613.2 L696.1 613.1 L697.3 613.2 L698.5 613.1 L699.7 613.2 L701.1 613.3 L702.6 613.3 L704.0 613.2 L705.5 613.0 L707.0 612.8 L708.2 612.9 L709.4 613.0 L711.2 612.7 L712.4 612.8 L713.6 612.9 L715.1 612.6 L716.6 612.5 L718.1 612.6 L719.6 613.1 L720.9 612.6 L722.1 611.8 L723.9 611.8 L725.4 612.3 L726.9 612.8 L728.4 612.5 L729.9 612.1 L731.3 612.5 L732.7 612.5 L734.1 612.8 L735.3 612.7 L736.5 612.4 L737.7 612.1 L739.2 612.0 L740.8 612.0 L742.0 611.7 L743.2 611.4 L744.6 611.4 L745.9 611.4 L747.2 611.6 L748.6 611.6 L749.8 611.7 L751.0 611.9 L752.2 612.1 L753.7 612.0 L755.2 612.1 L756.8 611.8 L758.3 611.3 L759.8 611.1 L761.3 611.0 L762.5 611.0 L763.7 611.0 L764.9 610.8 L766.1 610.6 L767.3 610.9 L768.5 610.9 L770.0 610.8 L771.5 610.7 L772.8 610.9 L774.0 610.8 L775.5 611.0 L777.0 611.2 L778.8 610.4 L780.0 610.4 L781.2 610.4 L782.4 610.7 L783.6 610.8 L784.8 611.2 L786.0 611.0 L787.2 610.8 L788.4 610.7 L789.5 610.6 L790.6 610.7 L791.4 624.5 L792.9 624.4 L793.3 610.7 L794.5 610.8 L795.7 611.1 L796.9 611.1 L798.1 611.4 L799.3 611.4 L800.5 611.6 L801.7 611.6 L802.9 611.6 L804.4 611.2 L805.9 611.0 L807.1 611.0 L808.3 611.0 L809.5 611.0 L811.4 613.7 L812.6 613.8 L813.8 613.8 L815.3 613.3 L816.8 613.1 L818.0 613.0 L819.2 612.9 L820.4 612.9 L821.9 613.3 L823.4 613.7 L825.0 613.7 L826.5 613.5 L828.0 613.6 L829.5 613.7 L830.7 613.5 L831.9 613.3 L833.1 613.1 L834.3 613.3 L835.5 613.3 L836.7 613.4 L838.1 613.2 L839.5 613.0 L840.9 612.9 L842.5 612.7 L844.0 612.5 L845.2 612.6 L846.4 612.7 L847.9 612.9 L849.4 613.1 L850.6 613.0 L851.8 612.9 L853.0 612.9 L854.2 612.6 L855.4 612.8 L856.6 612.9 L857.9 613.0 L859.1 612.9 L860.3 613.1 L861.5 612.9 L862.7 612.9 L863.9 612.7 L865.4 613.0 L866.9 613.1 L868.4 612.5 L869.9 612.1 L871.3 612.0 L872.7 612.1 L874.1 612.2 L875.9 612.5 L877.5 612.1 L879.0 612.0 L880.2 612.0 L881.4 612.0 L882.6 612.2 L883.8 612.2 L885.1 612.2 L886.5 612.2 L887.9 612.0 L889.2 612.0 L890.4 612.2 L891.6 612.3 L893.1 612.1 L894.6 611.7 L896.2 611.8 L897.7 612.0 L899.2 612.0 L900.7 611.7 L902.2 611.6 L903.7 611.2 L904.9 611.2 L906.1 611.4 L907.3 611.3 L908.5 611.3 L909.7 611.2 L910.9 611.0 L912.7 611.7 L914.2 612.0 L915.8 611.9 L917.0 611.8 L918.2 611.5 L919.7 611.0 L921.2 610.6 L922.7 610.6 L924.2 610.6 L925.4 610.7 L926.6 610.8 L927.8 610.8 L929.0 610.9 L930.2 611.0 L931.4 610.9 L932.7 610.6 L933.9 610.6 L935.4 610.5 L936.9 610.4 L938.4 610.4 L939.9 610.4 L941.1 610.2 L942.3 610.2 L943.5 610.2 L944.7 610.1 L945.9 610.2 L947.1 610.2 L948.3 610.4 L949.7 610.3 L951.2 610.1 L952.6 609.8 L953.8 610.3 L955.0 610.4 L956.5 610.3 L958.0 610.4 L959.2 610.1 L960.4 609.9 L961.6 609.8 L962.9 610.1 L964.1 610.1 L965.5 610.1 L966.8 610.1 L968.1 610.2 L969.5 610.3 L970.7 610.3 L971.9 610.0 L973.4 610.3 L974.9 610.3 L976.3 610.2 L977.7 610.1 L979.1 610.1 L980.9 609.6 L982.1 609.8 L983.4 609.8 L984.6 609.9 L986.1 609.9 L987.6 609.7 L989.1 609.7 L990.6 609.8 L992.0 609.6 L993.4 609.7 L994.8 609.6 L996.6 609.1 L998.1 609.3 L999.6 609.4 L1000.9 609.0 L1002.1 608.8 L1003.3 609.0 L1004.5 608.9 L1005.7 608.9 L1006.9 608.8 L1008.1 608.6 L1009.3 608.5 L1010.5 608.8 L1011.7 608.6 L1012.9 608.8 L1014.1 608.9 L1015.3 608.7 L1016.5 608.7 L1017.8 608.5 L1019.0 608.3 L1020.2 608.3 L1021.4 608.2 L1022.5 608.1 L1023.5 607.7 L1024.6 607.8 L1025.7 607.8 L1026.8 608.0 L1028.2 608.0 L1029.6 607.9 L1031.0 607.9 L1032.2 607.6 L1033.4 607.6 L1035.0 607.4 L1036.5 607.4 L1037.7 607.3 L1038.9 607.3 L1040.1 607.5 L1041.3 606.8 L1042.8 607.0 L1044.3 607.3 L1045.5 607.3 L1046.7 607.5 L1047.9 607.5 L1049.7 606.7 L1051.5 606.9 L1052.6 606.6 L1053.7 606.4 L1055.0 607.0 L1056.2 607.6 L1057.7 607.6 L1059.2 607.7 L1061.0 607.5 L1062.5 609.7 L1063.8 609.7 L1065.2 609.5 L1066.5 609.6 L1067.7 609.5 L1068.9 609.4 L1070.1 609.5 L1071.3 609.4 L1072.5 609.3 L1073.7 609.0 L1074.9 608.8 L1076.4 609.3 L1077.9 609.8 L1079.1 609.8 L1080.3 609.5 L1081.5 609.5 L1082.7 609.7 L1084.0 609.7 L1085.2 609.8 L1086.4 609.6 L1087.6 609.5 L1088.8 609.2 L1090.0 609.5 L1091.2 609.7 L1092.4 609.6 L1093.6 609.5 L1094.8 609.3 L1096.0 609.6 L1097.2 609.7 L1098.6 609.1 L1099.9 608.5 L1101.0 608.9 L1102.2 609.2 L1103.3 609.4 L1104.5 609.3 L1105.7 609.1 L1106.9 609.0 L1108.1 609.0 L1109.3 609.0 L1110.5 609.2 L1112.0 608.8 L1113.5 608.5 L1115.0 608.5 L1116.5 608.7 L1118.0 608.6 L1119.6 608.4 L1121.1 608.4 L1122.6 608.5 L1123.8 608.3 L1125.0 608.2 L1126.2 608.4 L1127.4 608.2 L1128.6 607.7 L1129.8 607.8 L1131.0 607.7 L1132.2 607.5 L1133.4 607.5 L1134.6 607.8 L1135.9 608.1 L1137.1 608.5 L1138.3 608.1 L1139.5 607.8 L1141.0 607.7 L1142.5 607.8 L1144.0 607.7 L1145.5 607.5 L1146.7 607.5 L1147.9 607.7 L1149.1 607.6 L1150.4 607.7 L1151.7 607.4 L1151.8 607.3 L1153 650 L185 650 Z" fill="#cdcdcd"/>
<circle cx="185" cy="620" r="15" fill="#4f4f4f"/>
<rect x="179.4" y="610.5" width="3.6" height="19" rx="1.5" fill="#fff"/>
<rect x="186.8" y="610.5" width="3.6" height="19" rx="1.5" fill="#fff"/>
<circle cx="1153" cy="620" r="15" fill="#4f4f4f"/>
<rect x="1147.4" y="610.5" width="3.6" height="19" rx="1.5" fill="#fff"/>
<rect x="1154.8" y="610.5" width="3.6" height="19" rx="1.5" fill="#fff"/>
<rect x="158" y="712" width="32" height="8" fill="#1f75cb"/>
<text x="206.7" y="723.5" font-size="29" font-weight="bold" fill="#2e2e2e" stroke="#2e2e2e" stroke-width="0.3" textLength="132.9" lengthAdjust="spacing">Total (GB)</text>
<text x="355.5" y="723.5" font-size="24" fill="#2e2e2e" stroke="#2e2e2e" stroke-width="0.25">Avg:</text>
<text x="30" y="66" font-size="33.6" font-weight="bold" fill="#2e2e2e" stroke="#2e2e2e" stroke-width="0.4" textLength="342" lengthAdjust="spacing">Memory Usage (Total)</text>
<circle cx="1148" cy="48" r="4.1" fill="#707070"/>
<circle cx="1148" cy="60" r="4.1" fill="#707070"/>
<circle cx="1148" cy="72" r="4.1" fill="#707070"/>
</svg>
<div class="tip">
<div class="hd"></div>
</div>
<svg width="1244" height="812" viewBox="0 0 1244 812" style="position:absolute;left:0;top:0;font-family:'Liberation Sans',sans-serif;pointer-events:none">
<text transform="translate(430.2 626) scale(1.076 1)" font-size="24.5" font-weight="bold" fill="#2e2e2e" stroke="#2e2e2e" stroke-width="0.3">22 Apr 2020, 3:22PM</text>
<text transform="translate(429.8 708) scale(1.061 1)" font-size="24" fill="#2e2e2e" stroke="#2e2e2e" stroke-width="0.25">Deployer finished a deployer pipeline of 12.9.202002136</text>
</svg>
<svg class="arrow" viewBox="0 0 32 18"><path d="M0.6 16.5 L16 0.9 L31.4 16.5 L31.4 18 L0.6 18 Z" fill="#fff"/><path d="M0.6 16.5 L16 0.9 L31.4 16.5" fill="none" stroke="#ececec" stroke-width="1.5"/></svg>
</body>
</html>
